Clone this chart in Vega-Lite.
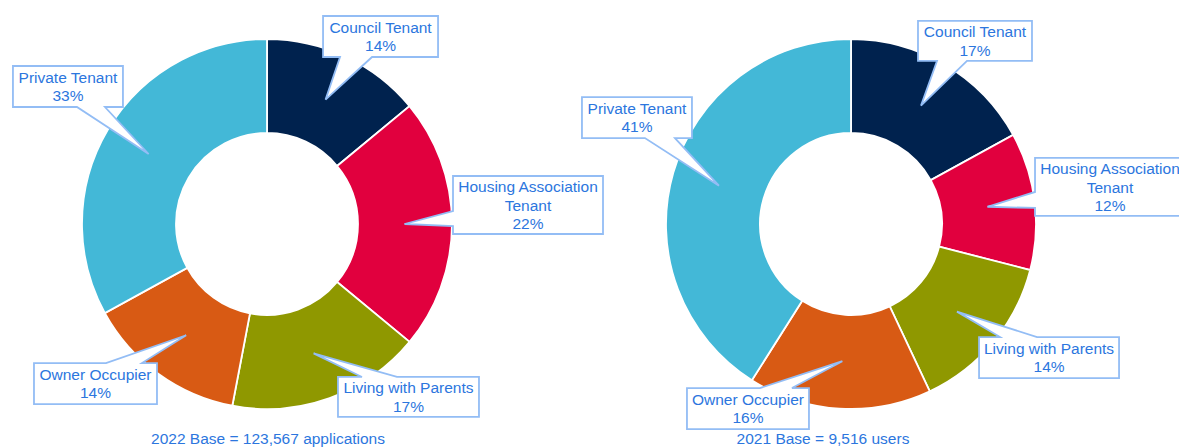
{
  "$schema": "https://vega.github.io/schema/vega-lite/v6.json",
  "padding": 0,
  "background": "white",
  "spacing": 0,
  "bounds": "flush",
  "config": {"view": {"stroke": null}},
  "resolve": {"scale": {"x": "independent", "y": "independent", "shape": "independent", "theta": "independent", "color": "shared"}},
  "hconcat": [
    {
      "width": 534,
      "height": 448,
      "title": {"text": "2022 Base = 123,567 applications", "orient": "bottom", "frame": "group", "offset": -4, "baseline": "alphabetic", "dx": 1, "fontSize": 15.5, "font": "Liberation Sans", "fontWeight": "normal", "color": "#2c76de"},
      "data": {"values": [
        {"i": 1, "label": "Council Tenant", "pct": 14},
        {"i": 2, "label": "Housing Association\nTenant", "pct": 22},
        {"i": 3, "label": "Living with Parents", "pct": 17},
        {"i": 4, "label": "Owner Occupier", "pct": 14},
        {"i": 5, "label": "Private Tenant", "pct": 33}
      ]},
      "transform": [
        {"window": [{"op": "sum", "field": "pct", "as": "cum"}], "sort": [{"field": "i"}], "frame": [null, 0]},
        {"joinaggregate": [{"op": "sum", "field": "pct", "as": "tot"}]},
        {"calculate": "2*PI*(datum.cum - datum.pct/2)/datum.tot", "as": "a"},
        {"calculate": "137.5*sin(datum.a)", "as": "tx"},
        {"calculate": "137.5*cos(datum.a)", "as": "ty"},
        {"calculate": "datum.label + '\\n' + datum.pct + '%'", "as": "txt"}
      ],
      "layer": [
        {
          "mark": {"type": "arc", "radius": 185, "radius2": 91, "stroke": "white", "strokeWidth": 1.8},
          "encoding": {
            "x": {"datum": 0, "type": "quantitative", "scale": {"domain": [-267, 267], "nice": false, "zero": false}, "axis": null},
            "y": {"datum": 0, "type": "quantitative", "scale": {"domain": [-224, 224], "nice": false, "zero": false}, "axis": null},
            "theta": {"field": "pct", "type": "quantitative", "stack": true},
            "order": {"field": "i", "type": "quantitative"},
            "color": {"field": "label", "type": "nominal", "legend": null,
              "scale": {"domain": ["Council Tenant", "Housing Association\nTenant", "Living with Parents", "Owner Occupier", "Private Tenant"],
                        "range": ["#00224e", "#e1003e", "#8f9800", "#d85a14", "#43b8d7"]}}
          }
        },
        {
          "mark": {"type": "point", "filled": true, "fill": "white", "stroke": "#93bdf5", "strokeWidth": 1.8, "size": 4, "opacity": 1},
          "encoding": {
            "x": {"field": "tx", "type": "quantitative"},
            "y": {"field": "ty", "type": "quantitative"},
            "shape": {"field": "i", "type": "nominal", "legend": null,
              "scale": {"domain": [1, 2, 3, 4, 5],
                        "range": [
                          "M-2.5,-83.6H112.5V-42.6H46.5L0,0L14.5,-42.6H-2.5Z",
                          "M48.5,-48H198.5V10H48.5V2L0,0L48.5,-13Z",
                          "M24.4,23.6H48.4L0,0L83.4,23.6H165.4V63.6H24.4Z",
                          "M-152.2,27.8H-80.2L0,0L-44.2,27.8H-29.2V68.8H-152.2Z",
                          "M-135.7,-88H-25.7V-47H-43.7L0,0L-71.7,-47H-135.7Z"
                        ]}}
          }
        },
        {
          "mark": {"type": "text", "font": "Liberation Sans", "fontSize": 15.5, "lineHeight": 18.5, "lineBreak": "\n", "color": "#2c76de", "align": "center", "baseline": "alphabetic",
            "dx": {"expr": "[55, 123.5, 94.9, -90.7, -80.7][datum.i - 1]"},
            "dy": {"expr": "[-66.8, -31.9, 39.9, 44.6, -71.2][datum.i - 1]"}},
          "encoding": {
            "x": {"field": "tx", "type": "quantitative"},
            "y": {"field": "ty", "type": "quantitative"},
            "text": {"field": "txt"}
          }
        }
      ]
    },
    {
      "width": 645,
      "height": 448,
      "title": {"text": "2021 Base = 9,516 users", "orient": "bottom", "frame": "group", "offset": -4, "baseline": "alphabetic", "dx": -33.5, "fontSize": 15.5, "font": "Liberation Sans", "fontWeight": "normal", "color": "#2c76de"},
      "data": {"values": [
        {"i": 1, "label": "Council Tenant", "pct": 17},
        {"i": 2, "label": "Housing Association\nTenant", "pct": 12},
        {"i": 3, "label": "Living with Parents", "pct": 14},
        {"i": 4, "label": "Owner Occupier", "pct": 16},
        {"i": 5, "label": "Private Tenant", "pct": 41}
      ]},
      "transform": [
        {"window": [{"op": "sum", "field": "pct", "as": "cum"}], "sort": [{"field": "i"}], "frame": [null, 0]},
        {"joinaggregate": [{"op": "sum", "field": "pct", "as": "tot"}]},
        {"calculate": "2*PI*(datum.cum - datum.pct/2)/datum.tot", "as": "a"},
        {"calculate": "137.5*sin(datum.a)", "as": "tx"},
        {"calculate": "137.5*cos(datum.a)", "as": "ty"},
        {"calculate": "datum.label + '\\n' + datum.pct + '%'", "as": "txt"}
      ],
      "layer": [
        {
          "mark": {"type": "arc", "radius": 185, "radius2": 91, "stroke": "white", "strokeWidth": 1.8},
          "encoding": {
            "x": {"datum": 0, "type": "quantitative", "scale": {"domain": [-317, 328], "nice": false, "zero": false}, "axis": null},
            "y": {"datum": 0, "type": "quantitative", "scale": {"domain": [-224, 224], "nice": false, "zero": false}, "axis": null},
            "theta": {"field": "pct", "type": "quantitative", "stack": true},
            "order": {"field": "i", "type": "quantitative"},
            "color": {"field": "label", "type": "nominal", "legend": null,
              "scale": {"domain": ["Council Tenant", "Housing Association\nTenant", "Living with Parents", "Owner Occupier", "Private Tenant"],
                        "range": ["#00224e", "#e1003e", "#8f9800", "#d85a14", "#43b8d7"]}}
          }
        },
        {
          "mark": {"type": "point", "filled": true, "fill": "white", "stroke": "#93bdf5", "strokeWidth": 1.8, "size": 4, "opacity": 1, "clip": true},
          "encoding": {
            "x": {"field": "tx", "type": "quantitative"},
            "y": {"field": "ty", "type": "quantitative"},
            "shape": {"field": "i", "type": "nominal", "legend": null,
              "scale": {"domain": [1, 2, 3, 4, 5],
                        "range": [
                          "M-3,-84.7H111V-44.7H46L0,0L16,-44.7H-3Z",
                          "M47.6,-48.8H197.6V9.2H47.6V1.2L0,0L47.6,-14.8Z",
                          "M22.1,25.4H43.1L0,0L80.1,25.4H162.1V66.4H22.1Z",
                          "M-155.4,26.8H-82.4L0,0L-50.4,26.8H-33.4V67.8H-155.4Z",
                          "M-137,-88.6H-27V-47.6H-44L0,0L-74,-47.6H-137Z"
                        ]}}
          }
        },
        {
          "mark": {"type": "text", "font": "Liberation Sans", "fontSize": 15.5, "lineHeight": 18.5, "lineBreak": "\n", "color": "#2c76de", "align": "center", "baseline": "alphabetic", "clip": true,
            "dx": {"expr": "[54, 122.6, 92.1, -94.4, -82][datum.i - 1]"},
            "dy": {"expr": "[-68.4, -32.7, 42.2, 43.6, -71.8][datum.i - 1]"}},
          "encoding": {
            "x": {"field": "tx", "type": "quantitative"},
            "y": {"field": "ty", "type": "quantitative"},
            "text": {"field": "txt"}
          }
        }
      ]
    }
  ]
}
